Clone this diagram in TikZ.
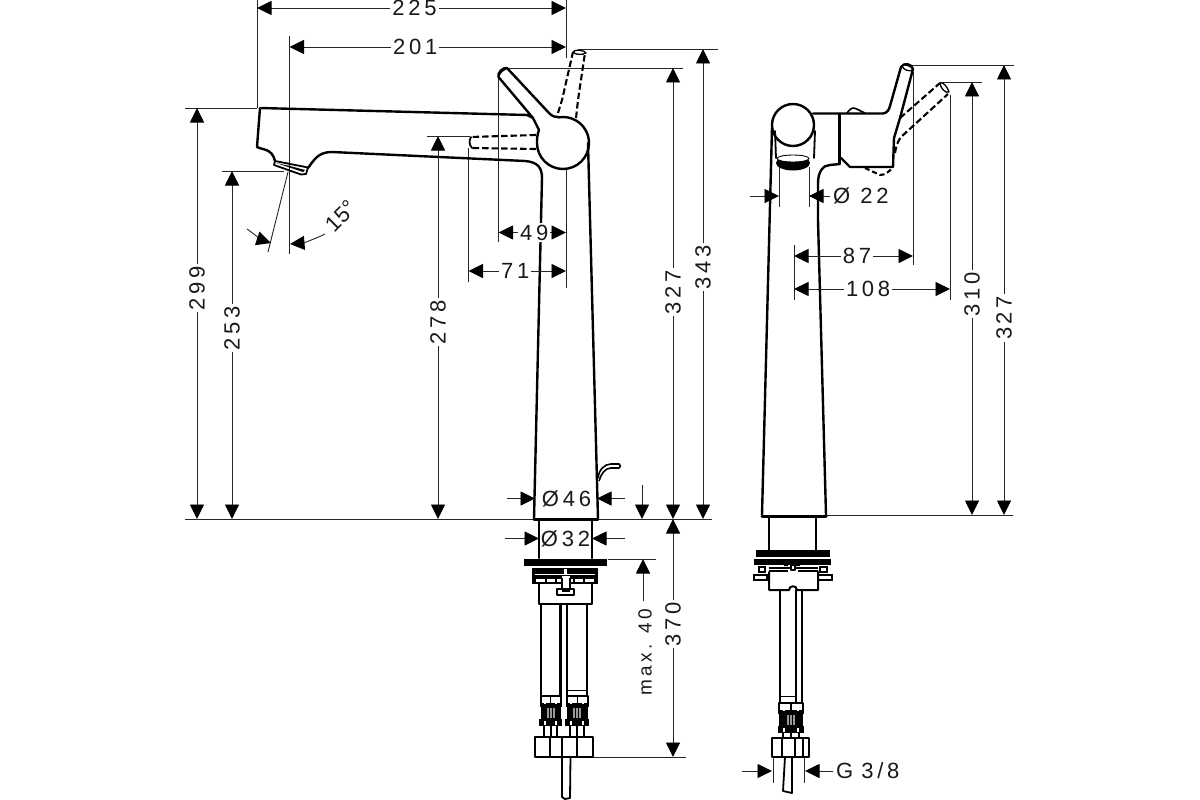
\documentclass[tikz,border=0pt]{standalone}
\usepackage{fontspec}
\setmainfont[LetterSpace=17]{Liberation Sans}
\newfontfamily\plainf{Liberation Sans}
\usetikzlibrary{arrows.meta,calc}
\tikzset{
 outl/.style={line width=2.4pt,line cap=round,line join=round,black},
 thin outl/.style={line width=1.3pt,line join=round,black},
 dash outl/.style={line width=2.1pt,dash pattern=on 6.5pt off 3pt,black},
 extl/.style={line width=0.9pt,black!85},
 dimboth/.style={extl,{Triangle[length=14.5pt,width=14pt,color=black]}-{Triangle[length=14.5pt,width=14pt,color=black]}},
 dimin/.style={extl,-{Triangle[length=14.5pt,width=14pt,color=black]}},
 lab/.style={fill=white,inner sep=2pt,text=black!90,font=\fontsize{22}{24}\selectfont},
 labv/.style={lab,rotate=90},
}
\newcommand\dimH[6]{\coordinate (#1a) at (#3,#2);\coordinate (#1b) at (#4,#2);
 \draw[dimboth] (#1a) -- node[lab,pos=#5] (#1t) {#6} (#1b);}
\newcommand\dimV[6]{\coordinate (#1a) at (#2,#3);\coordinate (#1b) at (#2,#4);
 \draw[dimboth] (#1a) -- node[labv,pos=#5] (#1t) {#6} (#1b);}
\newcommand\ext[5]{\coordinate (#1a) at (#2,#3);\coordinate (#1b) at (#4,#5);\draw[extl] (#1a) -- (#1b);}
\newcommand\dimIn[7]{\coordinate (#1a) at (#3,#2);\coordinate (#1b) at (#4,#2);
 \coordinate (#1c) at (#5,#2);\coordinate (#1d) at (#6,#2);
 \draw[dimin] (#1a) -- (#1b);\draw[dimin] (#1c) -- (#1d);
 #7}
\newcommand\fitting[3]{% x1,x2,y
 \begin{scope}[shift={(#1,#3)}]
 \pgfmathsetmacro\fw{#2-#1}
 \draw[thin outl,line width=2pt] (0,0) rectangle (\fw,8);
 \fill[black] (0,8) rectangle (\fw,26);
 \foreach \k in {0.36,0.5,0.64}{\fill[black!40] ({\fw*\k-0.9},12) rectangle ({\fw*\k+0.9},22);}
 \fill[white] ({\fw*.22-1},3) rectangle ({\fw*.22+1},8);
 \fill[white] ({\fw*.78-1},3) rectangle ({\fw*.78+1},8);
 \draw[thin outl,line width=1.4pt] (\fw*.5,0) -- (\fw*.5,8);
 \fill[black] (-1,8) rectangle (\fw+1,11);
 \fill[black] (-1.2,23) rectangle (\fw+1.2,30);
 \fill[white] ({\fw*.22-1},25) rectangle ({\fw*.22+1},29);
 \fill[white] ({\fw*.78-1},25) rectangle ({\fw*.78+1},29);
 \draw[black,line width=2pt] (\fw*.18,30) -- (\fw*.18,41) (\fw*.5,30) -- (\fw*.5,41) (\fw*.82,30) -- (\fw*.82,41);
 \end{scope}}
\begin{document}
\begin{tikzpicture}[x=1pt,y=-1pt]
\useasboundingbox (0,0) rectangle (1200,800);
\fill[white] (0,0) rectangle (1200,800);

%% extension lines, left view
\ext{e1}{257}{0}{257}{108}
\ext{e2}{185}{108}{257}{108}
\ext{e3}{289.5}{36}{289.5}{254}
\ext{e4}{566}{0}{566}{58}
\ext{e5}{566}{168}{566}{288}
\ext{e6}{498.5}{73}{498.5}{242}
\ext{e7}{468.5}{148}{468.5}{282}
\ext{e8}{427}{136}{470}{136}
\ext{e9}{222}{171}{284}{171}
\ext{e10}{268}{252}{288}{172}
\ext{e11}{505}{68}{683}{68}
\ext{e12}{578}{49}{718}{49}
\ext{e13}{185}{519}{712}{519}
\ext{e14}{608}{559}{656}{559}
\ext{e15}{593}{757}{686}{757}
\ext{e16}{826}{515}{1013}{515}
\ext{e17}{908}{65}{1014}{65}
\ext{e18}{940}{82}{982}{82}
\ext{e19}{913}{72}{913}{265}
\ext{e20}{950}{95}{950}{300}
\ext{e21}{794}{245}{794}{300}
\ext{e22}{779}{167}{779}{207}
\ext{e23}{809}{167}{809}{207}
\ext{e24}{773}{757}{773}{783}
\ext{e25}{804}{757}{804}{783}

%% left view: spout and body
\draw[outl] (527,115) -- (260,108) -- (257,147)
  .. controls (262,150) and (272,148) .. (275,161);
\draw[outl] (308,168) .. controls (314,160) and (318,152) .. (332,152)
  -- (525,161) .. controls (538,162) and (542,168) .. (542,178) -- (534,519);
\draw[outl,line width=1.8pt] (275,161) -- (308,167.5) -- (306,174) -- (301,174.5) -- (274,165) -- cycle;
\fill[black] (276,163) -- (303,172) -- (305,170) -- (290,166) -- cycle;
\draw[outl] (588,143) -- (598,519);
\draw[outl,line width=3pt] (534,519) -- (598,519);
% handle
\draw[outl] (539,130) .. controls (537,135) and (537,140) .. (537,143)
  arc[start angle=180,end angle=-100,x radius=26,y radius=26];
\draw[outl] (533,118) -- (539,130);
\draw[outl] (527,115) -- (533,118) -- (498.5,77) .. controls (497,73) and (503,67) .. (507,68) -- (549,113) .. controls (552,116) and (554,117) .. (558.5,117);
\draw[thin outl] (499,76) .. controls (500,72) and (504,70) .. (506,69);
% dashed lever positions
\draw[dash outl] (558,113) -- (562,100) -- (573,52);
\draw[dash outl] (576,118) -- (578,100) -- (585,53);
\draw[thin outl,fill=white] (573,52) .. controls (574,49) and (585,50) .. (586,53) .. controls (583,55) and (575,55) .. (573,52);
\draw[dash outl] (536,135) -- (470,137);
\draw[dash outl] (536,149) -- (472,148);
\draw[outl,line width=1.8pt] (471,137) .. controls (469,140) and (469,145) .. (472,148);
% pull rod
\draw[black,line width=1.6pt,fill=white,line join=round] (598,478) .. controls (599,470) and (604,464) .. (611,464) -- (619,464) .. controls (621,465) and (621,467) .. (619,468) -- (611,468) .. controls (605,468) and (601,474) .. (599,481);

%% left view: lower part
\draw[outl] (539,519) -- (539,558);
\draw[outl] (592,519) -- (592,558);
\fill[black] (524,558.5) rectangle (607,565.5);
\fill[black] (532,568) rectangle (598,583.5);
\fill[white] (535,574) rectangle (595,575);
\fill[white] (536,578.5) rectangle (594,582);
\foreach \x in {546,556,574,584}{\fill[black] (\x-0.8,578) rectangle (\x+0.8,582);}
\fill[white] (562,576) rectangle (570,590);
\fill[white] (564,569) rectangle (567,574);
\draw[outl,line width=1.8pt] (539,583) -- (539,604) -- (592,604) -- (592,583);
\draw[black,line width=1.6pt] (562,578) -- (562,590) (570,578) -- (570,590);
\draw[black,line width=2pt,fill=white,line join=round] (557,589) rectangle (574,595);
\fill[black] (562,589) rectangle (570,592);
\draw[outl] (541,604) -- (541,696) (560.5,604) -- (560.5,696) (567,604) -- (567,696) (587,604) -- (587,696);
\draw[black,line width=.9pt] (568,690) -- (586,690);
\fitting{540.5}{561}{696}
\fitting{566.5}{588}{696}
\draw[outl,fill=white,line width=2pt] (535,737) rectangle (593,757);
\draw[black,line width=1.8pt] (550,737) -- (550,757) (562,737) -- (562,757) (577,737) -- (577,757);
\draw[outl,line width=1.8pt] (562,757) -- (562,797) -- (565,799) -- (570,798) -- (570.5,757);

%% right view: head
\draw[outl] (772,128) -- (762,515);
\draw[outl] (818,220) .. controls (818,200) and (818,190) .. (818,183) .. controls (818,172) and (823,165) .. (830,165) -- (840,164);
\draw[outl] (818,220) -- (826,515);
\draw[outl,line width=3pt] (762,516) -- (826,516);
\draw[outl] (793,125) circle[radius=21];
\draw[outl,line width=1.8pt] (775,131) -- (776,158);
\draw[outl,line width=1.8pt] (815,131) -- (814,158);
\fill[black] (793,163) ellipse[x radius=17,y radius=7.5];
\fill[white,draw=black,line width=.9pt] (793,158.5) ellipse[x radius=16,y radius=3.5];
% hub and lever
\draw[outl] (813,113.5) -- (883,113.5) .. controls (887,113) and (889,110) .. (890,106) -- (901,67);
\draw[outl] (901,67) .. controls (904,62) and (912,64) .. (913,69) -- (900,118) -- (894,138) -- (893,167) -- (850,167) -- (841,158);
\draw[outl,line width=2.6pt] (839.5,114) -- (839.5,163);
\draw[thin outl,fill=white] (902,65.5) .. controls (905,64) and (912,66) .. (913,70) .. controls (909,72) and (903,70) .. (902,65.5);
\draw[thin outl,line width=1.6pt] (847,113) .. controls (850,109) and (852,108) .. (853,108) .. controls (856,108) and (860,111) .. (865,113);
\draw[dash outl,dash pattern=on 5pt off 3pt] (865,168) -- (880,175) .. controls (885,175) and (889,172) .. (893,167);
\draw[dash outl] (900,118) -- (940,83);
\draw[dash outl] (895,153) .. controls (896,146) and (898,141) .. (901,137) -- (948,94);
\draw[thin outl,fill=white] (940,83) .. controls (943,81) and (948,88) .. (949,92) .. controls (946,94) and (940,88) .. (940,83);

%% right view: lower part
\draw[outl] (769,518) -- (769,550) (816,518) -- (816,550);
\fill[black] (756,550) rectangle (830,557);
\fill[black] (754,559) rectangle (831,565);
\draw[black,line width=1.7pt] (759,567) rectangle (765,572) (820,567) rectangle (827,572);
\draw[black,line width=1.8pt] (754,575) rectangle (767,580) (818,575) rectangle (832,580);
\draw[black,line width=1.5pt] (769,568) -- (818,568);
\draw[outl,line width=2pt] (769,572) -- (769,590) -- (789,590) .. controls (789,585) and (797,585) .. (797,590) -- (818,590) -- (818,572);
\draw[thin outl] (769,571) -- (788,571) (798,571) -- (818,571);
\fill[black] (784,564) rectangle (788,566) (795,564) rectangle (800,566);
\draw[thin outl,fill=white] (791,565) rectangle (795,570);
\draw[outl] (780,590) -- (780,703) (796,590) -- (796,703) (802,590) -- (802,703);
\draw[black,line width=.9pt] (780,696) -- (796,696);
\fitting{779}{803}{703}
\draw[outl,fill=white,line width=2pt] (772,738) rectangle (809,757);
\draw[black,line width=1.8pt] (782,738) -- (782,757) (795,738) -- (795,757) (803,738) -- (803,757);
\draw[outl,line width=1.8pt] (785,757) -- (783,791) -- (792,793) -- (792,757);

%% 15 degree arcs
\coordinate (a1s) at (247,229);\coordinate (a1e) at (271,243);
\draw[dimin] (a1s) .. controls (254,234) and (262,240) .. (a1e);
\coordinate (a2s) at (325,234);\coordinate (a2e) at (290,244);
\draw[dimin] (a2s) .. controls (315,239) and (303,243) .. (a2e);
\node[lab,fill=none,rotate=45,font=\fontsize{22}{24}\plainf] (t15) at (341,216) {15°};

%% dimensions, left view
\dimH{d225}{8}{257}{566}{0.51}{225}
\dimH{d201}{47}{289.5}{566}{0.455}{201}
\dimH{d49}{232.5}{498.5}{566}{0.53}{49}
\dimH{d71}{271}{468.5}{566}{0.48}{71}
\dimV{d299}{197}{108}{519}{0.438}{299}
\dimV{d253}{232}{171}{519}{0.451}{253}
\dimV{d278}{438}{136}{519}{0.486}{278}
\dimV{d327}{673}{68}{519}{0.497}{327}
\dimV{d343}{703}{49}{519}{0.464}{343}
\dimV{d370}{673}{519}{757}{0.441}{370}
\dimIn{dA}{498.5}{507}{535}{625}{597}{\node[lab,fill=none] (tA) at (566.5,498.5) {Ø46};}
\dimIn{dB}{538.5}{505}{539}{625}{592}{\node[lab,fill=none] (tB) at (565.5,538.5) {Ø32};}
\coordinate (dCa) at (642,485);\coordinate (dCb) at (642,519);
\draw[dimin] (dCa) -- (dCb);
\coordinate (dDa) at (643,601);\coordinate (dDb) at (643,559);
\draw[dimin] (dDa) -- (dDb);
\node[lab,rotate=90,fill=none,font=\fontsize{19}{21}\selectfont] (tmax) at (645,652) {max. 40};

%% dimensions, right view
\dimIn{dE}{196}{750}{779}{830}{809}{\node[lab,fill=none,anchor=west] (tE) at (831,196) {Ø\hspace{10pt}22};}
\dimH{d87}{256}{794}{913}{0.53}{87}
\dimH{d108}{289}{794}{950}{0.475}{108}
\dimV{d310}{972}{82}{515}{0.49}{310}
\dimV{d327r}{1004}{65}{515}{0.562}{327}
\dimIn{dF}{771}{742}{772}{833}{805}{\node[lab,fill=none,anchor=west] (tF) at (834,771) {G\hspace{8pt}3/8};}
\end{tikzpicture}
\end{document}
